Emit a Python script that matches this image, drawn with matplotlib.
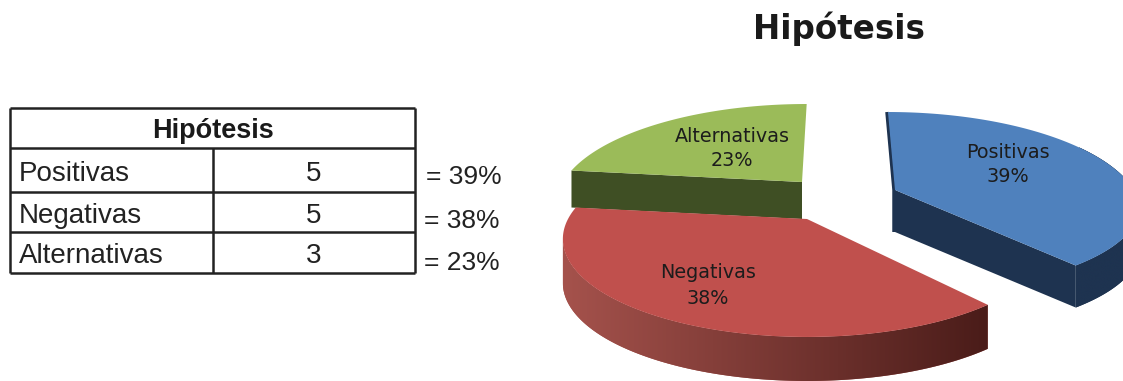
# -*- coding: utf-8 -*-
import numpy as np
import matplotlib
matplotlib.use("Agg")
import matplotlib.pyplot as plt
from matplotlib.colors import to_rgb
from matplotlib.patches import Polygon

categories = ["Positivas", "Negativas", "Alternativas"]
counts = [5, 5, 3]
percents = [39, 38, 23]
title = "Hipótesis"

top_colors = ["#4f81bd", "#c0504d", "#9bbb59"]
side_colors = ["#1e3350", "#a5524c", "#3f4f24"]
side_colors_end = ["#1e3350", "#4a1c19", "#3f4f24"]

# apex of each slice on the picture, pixels (the explosion)
apex = [(895, 190), (807, 219), (802, 182)]
shear = [0.09, 0.0, -0.06]
front_scale = [0.88, 1.0, 1.0]
depth = [42, 44, 37]
label_pos = [(1008, 152), (708, 273), (732, 136)]

# perspective of the pie disc
A, B, K = 239.0, 93.9, 0.204

fig = plt.figure(figsize=(11.23, 3.81), dpi=100)
ax = fig.add_axes([0, 0, 1, 1])
ax.set_xlim(0, 1123)
ax.set_ylim(381, 0)
ax.axis("off")


def project(theta, i, down=0):
    u, v = np.sin(theta), np.cos(theta)
    w = 1 + K * v
    y = -B * v / w
    x = A * u / w + shear[i] * np.minimum(y, 0)
    y = np.where(y > 0, y * front_scale[i], y)
    return apex[i][0] + x, apex[i][1] + y + down


def draw_wall(i, theta):
    x, y = project(theta, i)
    # past the leftmost point the wall is behind the top face
    keep = np.argmin(x) + 1
    x, y = x[:keep], y[:keep]
    xd, yd = project(theta[:keep], i, depth[i])
    pts = list(zip(np.r_[x, xd[::-1]], np.r_[y, yd[::-1]]))
    poly = Polygon(pts, fc=side_colors[i], ec="none")
    ax.add_patch(poly)
    # colour runs left to right along the wall
    c0, c1 = np.array(to_rgb(side_colors[i])), np.array(to_rgb(side_colors_end[i]))
    ramp = np.linspace(0, 1, 256)[None, :, None]
    grad = c0 + (c1 - c0) * ramp
    im = ax.imshow(grad, extent=(x.min(), x.max(), yd.max(), y.min()), aspect="auto",
                   interpolation="bilinear", zorder=poly.get_zorder())
    im.set_clip_path(poly)
    ax.set_xlim(0, 1123)
    ax.set_ylim(381, 0)


def draw_slice(i, start, end):
    theta = np.linspace(start, end, 160)
    x, y = project(theta, i)
    xd, yd = project(theta, i, depth[i])
    ax0, ay0 = apex[i]

    if i == 0:
        # faces: front cut, then thin back cut edge
        ax.add_patch(Polygon([(ax0, ay0), (x[-1], y[-1]), (xd[-1], yd[-1]),
                              (ax0, ay0 + depth[i])], fc=side_colors[i], ec="none"))
        ax.plot([x[0] - 1, ax0 - 1, ax0 - 1], [y[0], ay0, ay0 + depth[i]],
                color=side_colors[i], lw=2.5, solid_capstyle="butt")
        draw_wall(i, theta[theta > np.pi / 3])
    elif i == 1:
        draw_wall(i, theta)
    else:
        ax.add_patch(Polygon([(ax0, ay0), (x[0], y[0]), (xd[0], yd[0]),
                              (ax0, ay0 + depth[i])], fc=side_colors[i], ec="none"))

    ax.add_patch(Polygon(list(zip(np.r_[ax0, x], np.r_[ay0, y])), fc=top_colors[i], ec="none",
                         zorder=2))


edges = np.cumsum([0] + percents) / sum(percents) * 2 * np.pi
for i in [2, 0, 1]:
    draw_slice(i, edges[i], edges[i + 1])

for i, name in enumerate(categories):
    ax.text(label_pos[i][0], label_pos[i][1], name, ha="center", va="center",
            family="DejaVu Sans", fontsize=13.8, color="#1c1c1c", zorder=5)
    ax.text(label_pos[i][0], label_pos[i][1] + 25, "%d%%" % percents[i], ha="center", va="center",
            family="DejaVu Sans", fontsize=13.8, color="#1c1c1c", zorder=5)

ax.text(839, 29, title, ha="center", va="center", family="DejaVu Sans", weight="bold",
        fontsize=23.5, color="#1a1a1a")

# table
row_lines = [108, 148, 192, 232, 273]
left, mid, right = 10, 213, 415
ax.hlines(row_lines, left, right, color="#222222", lw=1.8)
ax.vlines([left, right], row_lines[0], row_lines[-1], color="#222222", lw=1.8)
ax.vlines(mid, row_lines[1], row_lines[-1], color="#222222", lw=1.8)

ax.text((left + right) / 2 + 1, 131, title, ha="center", va="center",
        family="Liberation Sans", weight="bold", fontsize=19.5, color="#1a1a1a")

text_y = [174, 216, 256]
pct_pos = [(426, 177), (424, 221), (424, 263)]
for i, name in enumerate(categories):
    ax.text(19, text_y[i], name, ha="left", va="center", family="Liberation Sans",
            fontsize=20, color="#222222")
    ax.text(314, text_y[i], str(counts[i]), ha="center", va="center", family="Liberation Sans",
            fontsize=20, color="#222222")
    ax.text(pct_pos[i][0], pct_pos[i][1], "= %d%%" % percents[i], ha="left", va="center",
            family="Liberation Sans", fontsize=19, color="#222222")

fig.savefig("out.png", dpi=100)
